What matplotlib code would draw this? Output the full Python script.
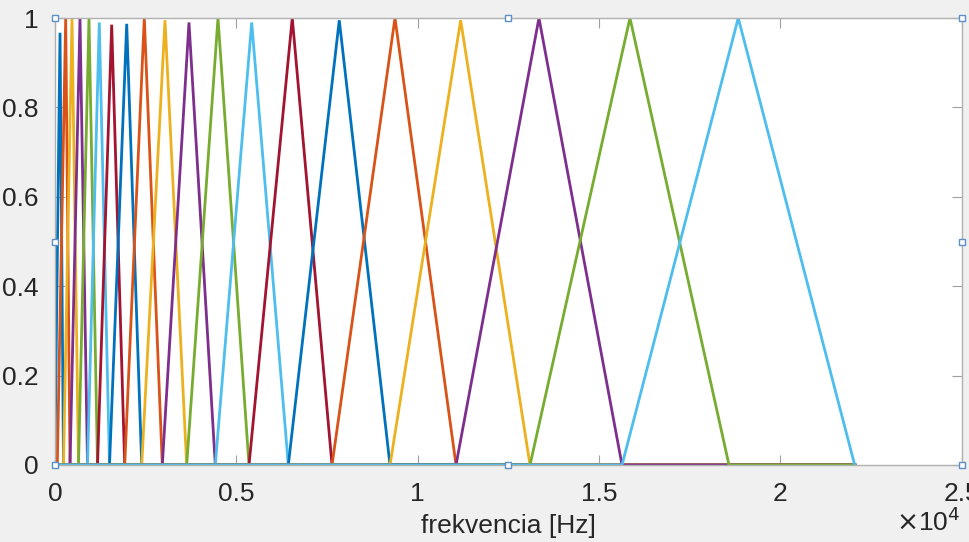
import matplotlib
matplotlib.use("Agg")
import matplotlib.pyplot as plt

# ---- data ----
f_max = 22050  # Hz, last point of the frequency axis
# foot (zero) positions of the triangular filters, Hz
edges = [0, 63, 234, 414, 648, 896, 1172, 1503, 1922, 2391, 2959, 3631,
         4420, 5349, 6433, 7638, 9237, 11057, 13097, 15634, 18584, 22050]
# peak positions, Hz
peaks = [138, 295, 469, 689, 937, 1221, 1563, 1977, 2462, 3033, 3694, 4494,
         5423, 6542, 7838, 9374, 11185, 13344, 15853, 18839]
# peak heights
heights = [0.967, 1.0, 1.0, 1.0, 1.0, 0.99, 0.985, 0.987, 1.0, 0.995, 0.99,
           1.0, 0.99, 1.0, 0.995, 1.0, 0.995, 1.0, 1.0, 1.0]
first_start = 0.03  # value of first filter at 0 Hz

x_ticks = [0, 5000, 10000, 15000, 20000, 25000]
x_ticklabels = ["0", "0.5", "1", "1.5", "2", "2.5"]
y_ticks = [0, 0.2, 0.4, 0.6, 0.8, 1.0]
y_ticklabels = ["0", "0.2", "0.4", "0.6", "0.8", "1"]
x_label = "frekvencia [Hz]"

colors = ["#0072BD", "#D95319", "#EDB120", "#7E2F8E", "#77AC30", "#4DBEEE", "#A2142F"]

plt.rcParams["font.family"] = ["Liberation Sans", "DejaVu Sans"]

fig = plt.figure(figsize=(9.69, 5.42), dpi=100, facecolor="#f0f0f0")
ax = fig.add_axes([55 / 969, 1 - 465 / 542, (961.7 - 55) / 969, (465 - 18) / 542])
ax.set_facecolor("white")

for i, (p, h) in enumerate(zip(peaks, heights)):
    if i == 0:
        xs = [0, p, edges[2], f_max]
        ys = [first_start, h, 0, 0]
    else:
        xs = [0, edges[i], p, edges[i + 2]]
        ys = [0, 0, h, 0]
        if edges[i + 2] < f_max:
            xs.append(f_max)
            ys.append(0)
    ax.plot(xs, ys, color=colors[i % len(colors)], lw=2.0, solid_joinstyle="miter")

ax.set_xlim(0, 25000)
ax.set_ylim(0, 1)
ax.set_xticks(x_ticks)
ax.set_xticklabels(x_ticklabels)
ax.set_yticks(y_ticks)
ax.set_yticklabels(y_ticklabels)
ax.tick_params(direction="in", length=7, width=0.8, color="#a0a0a0",
               labelsize=19, labelcolor="#262626", top=True, right=True,
               pad=12)
for s in ax.spines.values():
    s.set_color("#b0b0b0")
    s.set_linewidth(1.0)

ax.set_xlabel(x_label, fontsize=19, color="#262626", labelpad=6)
fig.text(960 / 969, 1 - 522 / 542, r"$\times$10$^{4}$", ha="right", va="center",
         fontsize=19, color="#262626")

# selection handles (MATLAB edit mode)
hx = [0, 12500, 25000, 0, 25000, 0, 12500, 25000]
hy = [1, 1, 1, 0.5, 0.5, 0, 0, 0]
ax.plot(hx, hy, ls="none", marker="s", ms=4, mfc="white", mec="#5b8fc7",
        mew=1.0, clip_on=False, zorder=5)

fig.savefig("out.png", dpi=100, facecolor=fig.get_facecolor())
